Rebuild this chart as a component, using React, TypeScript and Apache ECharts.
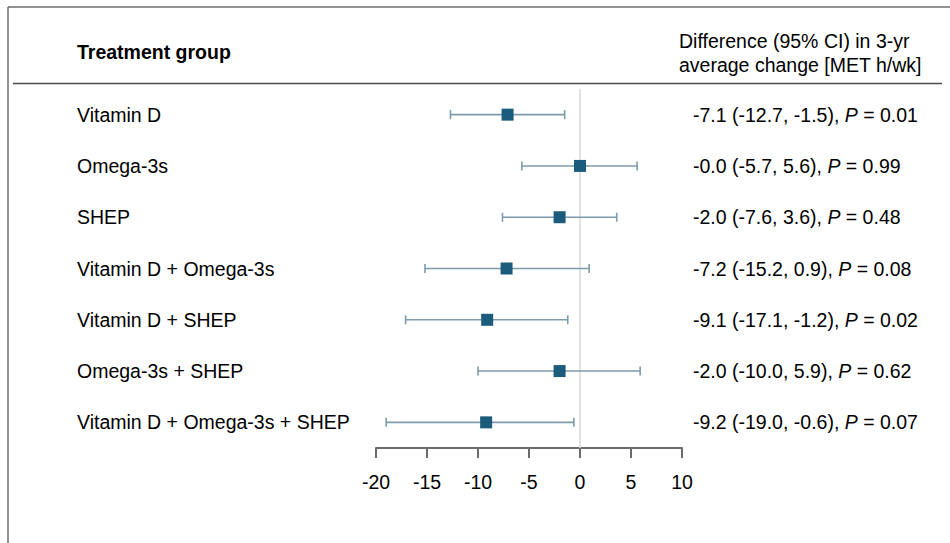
import React, { useEffect, useRef } from "react";
import * as echarts from "echarts";

const categories = [
  "Vitamin D",
  "Omega-3s",
  "SHEP",
  "Vitamin D + Omega-3s",
  "Vitamin D + SHEP",
  "Omega-3s + SHEP",
  "Vitamin D + Omega-3s + SHEP",
];
const estimates = [-7.1, -0.0, -2.0, -7.2, -9.1, -2.0, -9.2];
const lowerCI = [-12.7, -5.7, -7.6, -15.2, -17.1, -10.0, -19.0];
const upperCI = [-1.5, 5.6, 3.6, 0.9, -1.2, 5.9, -0.6];
const pValues = [0.01, 0.99, 0.48, 0.08, 0.02, 0.62, 0.07];
const xTicks = [-20, -15, -10, -5, 0, 5, 10];

const FONT = "'Liberation Sans', Arial, Helvetica, sans-serif";
const FS = 19.5;

function fmt1(v: number): string {
  const neg = v < 0 || Object.is(v, -0);
  return (neg ? "-" : "") + Math.abs(v).toFixed(1);
}

export default function App() {
  const ref = useRef<HTMLDivElement>(null);

  useEffect(() => {
    if (!ref.current) return;
    const chart = echarts.init(ref.current, undefined, { renderer: "svg" });
    const statLabels = categories.map(
      (_, i) => `${fmt1(estimates[i])} (${fmt1(lowerCI[i])}, ${fmt1(upperCI[i])}), |P| = ${pValues[i].toFixed(2)}`
    );
    const option: any = {
      animation: false,
      backgroundColor: "#ffffff",
      textStyle: { fontFamily: FONT },
      grid: { left: 376, right: 268, top: 89, bottom: 95 },
      xAxis: {
        type: "value",
        min: xTicks[0],
        max: xTicks[xTicks.length - 1],
        interval: 5,
        splitLine: { show: false },
        axisLine: { show: true, lineStyle: { color: "#6b6b6b", width: 2 } },
        axisTick: { show: true, length: 10, lineStyle: { color: "#6b6b6b", width: 2 } },
        axisLabel: { color: "#000", fontSize: FS, fontFamily: FONT, margin: 24 },
      },
      yAxis: [
        {
          type: "category",
          data: categories,
          inverse: true,
          position: "left",
          axisLine: { show: false },
          axisTick: { show: false },
          splitLine: { show: false },
          axisLabel: { align: "left", margin: 299, color: "#000", fontSize: FS, fontFamily: FONT },
        },
        {
          type: "category",
          data: statLabels,
          inverse: true,
          position: "right",
          axisLine: { show: false },
          axisTick: { show: false },
          splitLine: { show: false },
          axisLabel: {
            align: "left",
            margin: 11,
            color: "#000",
            fontSize: FS,
            fontFamily: FONT,
            formatter: (v: string) => {
              const parts = v.split("|");
              return `{a|${parts[0]}}{p|${parts[1]}}{a|${parts[2]}}`;
            },
            rich: {
              a: { fontSize: FS, fontFamily: FONT, color: "#000" },
              p: { fontSize: FS, fontFamily: FONT, color: "#000", fontStyle: "italic" },
            },
          },
        },
      ],
      series: [
        {
          type: "custom",
          yAxisIndex: 0,
          data: categories.map((_, i) => [lowerCI[i], upperCI[i], i]),
          renderItem: (params: any, api: any) => {
            const lo = api.coord([api.value(0), api.value(2)]);
            const hi = api.coord([api.value(1), api.value(2)]);
            const y = lo[1];
            const capH = 4.5;
            const style = { stroke: "#7d9bab", lineWidth: 1.6 };
            return {
              type: "group",
              children: [
                { type: "line", shape: { x1: lo[0], y1: y, x2: hi[0], y2: y }, style },
                { type: "line", shape: { x1: lo[0], y1: y - capH, x2: lo[0], y2: y + capH }, style },
                { type: "line", shape: { x1: hi[0], y1: y - capH, x2: hi[0], y2: y + capH }, style },
              ],
            };
          },
          z: 2,
          markLine: {
            silent: true,
            symbol: "none",
            label: { show: false },
            lineStyle: { color: "#d8d8d8", width: 1.5, type: "solid" },
            data: [{ xAxis: 0 }],
            z: 1,
          },
        },
        {
          type: "scatter",
          yAxisIndex: 0,
          symbol: "rect",
          symbolSize: 12,
          itemStyle: { color: "#1b5b7b", opacity: 1 },
          emphasis: { disabled: true },
          data: categories.map((c, i) => [estimates[i], c]),
          z: 3,
        },
      ],
      graphic: [
        {
          type: "line",
          shape: { x1: 8, y1: 7, x2: 950, y2: 7 },
          style: { stroke: "#6e6e6e", lineWidth: 1.5 },
        },
        {
          type: "line",
          shape: { x1: 8, y1: 7, x2: 8, y2: 543 },
          style: { stroke: "#6e6e6e", lineWidth: 1.5 },
        },
        {
          type: "line",
          shape: { x1: 13, y1: 83.5, x2: 942, y2: 83.5 },
          style: { stroke: "#4a4a4a", lineWidth: 1.5 },
        },
        {
          type: "text",
          left: 77,
          top: 42,
          style: { text: "Treatment group", font: `bold ${FS}px ${FONT}`, fill: "#000" },
        },
        {
          type: "text",
          left: 679,
          top: 29,
          style: {
            text: "Difference (95% CI) in 3-yr\naverage change [MET h/wk]",
            font: `${FS}px ${FONT}`,
            fill: "#000",
            lineHeight: 24,
          },
        },
      ],
    };
    chart.setOption(option);
    return () => chart.dispose();
  }, []);

  return (
    <div
      ref={ref}
      style={{ position: "fixed", left: 0, top: 0, width: 950, height: 543, background: "#fff" }}
    />
  );
}
